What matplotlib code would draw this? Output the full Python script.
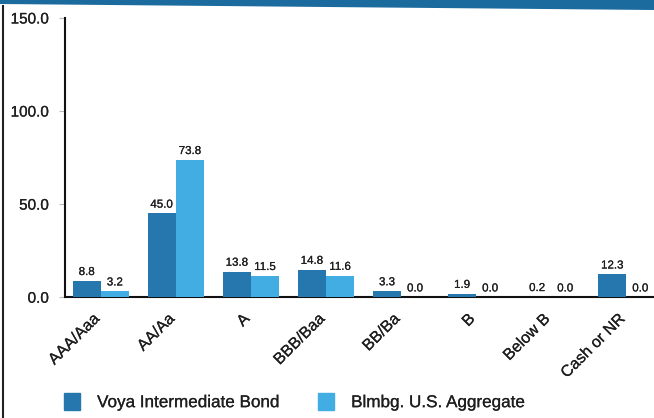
import matplotlib
matplotlib.use("Agg")
import matplotlib.pyplot as plt
import matplotlib.patheffects as pe
import matplotlib.transforms as mtransforms
import numpy as np
from matplotlib.patches import Rectangle, Polygon

categories = ["AAA/Aaa", "AA/Aa", "A", "BBB/Baa", "BB/Ba", "B", "Below B", "Cash or NR"]
fund_values = [8.8, 45.0, 13.8, 14.8, 3.3, 1.9, 0.2, 12.3]
index_values = [3.2, 73.8, 11.5, 11.6, 0.0, 0.0, 0.0, 0.0]
series_names = ["Voya Intermediate Bond", "Blmbg. U.S. Aggregate"]
y_ticks = [0.0, 50.0, 100.0, 150.0]

dark_blue = "#2677ad"
light_blue = "#42ade3"
text_color = "#1e1e1e"
heavy = [pe.withStroke(linewidth=0.15, foreground=text_color)]

plt.rcParams["font.family"] = ["Liberation Sans", "DejaVu Sans"]

fig = plt.figure(figsize=(6.54, 4.18), dpi=100)
fig.patch.set_facecolor("white")

# header band (slightly slanted) and left border
fig.add_artist(Polygon([(0, 1), (1, 1), (1, 1 - 10 / 418), (0, 1 - 4 / 418)],
                       closed=True, transform=fig.transFigure,
                       facecolor="#1c6b9e", edgecolor="none"))
fig.add_artist(plt.Line2D([0.005, 0.005], [0.0, 0.985], transform=fig.transFigure,
                          color="#222222", lw=1.5))

ax = fig.add_axes([0.1, 0.289, 0.915, 0.668])
x = np.arange(len(categories))
w = 0.375
ax.bar(x - w / 2, fund_values, w, color=dark_blue, label=series_names[0], zorder=2)
ax.bar(x + w / 2, index_values, w, color=light_blue, label=series_names[1], zorder=2)

for xs, vals in ((x - w / 2, fund_values), (x + w / 2, index_values)):
    for xi, v in zip(xs, vals):
        ax.text(xi, v + 1.5, f"{v:.1f}", ha="center", va="bottom", fontsize=8.3,
                color=text_color, path_effects=heavy)

ax.set_xlim(-0.47, 7.5)
ax.set_ylim(0, 150)
ax.set_yticks(y_ticks)
ax.set_yticklabels([f"{t:.1f}" for t in y_ticks], fontsize=11, color=text_color)
ax.tick_params(axis="y", length=4, color="#bbbbbb", pad=8)
ax.set_xticks(x)
ax.set_xticklabels(categories, rotation=45, ha="right", rotation_mode="anchor",
                   fontsize=11.5, color=text_color)
ax.tick_params(axis="x", length=0, pad=10)
shift = mtransforms.ScaledTranslation(-9 / 100, 0, fig.dpi_scale_trans)
for lbl in ax.get_xticklabels():
    lbl.set_transform(lbl.get_transform() + shift)
for lbl in ax.get_xticklabels() + ax.get_yticklabels():
    lbl.set_path_effects(heavy)

for side in ["top", "right"]:
    ax.spines[side].set_visible(False)
ax.spines["left"].set_color("#111111")
ax.spines["left"].set_linewidth(1.5)
ax.spines["bottom"].set_color("#111111")
ax.spines["bottom"].set_linewidth(1.5)
ax.spines["bottom"].set_zorder(1)

handles = [Rectangle((0, 0), 1, 1, color=dark_blue), Rectangle((0, 0), 1, 1, color=light_blue)]
leg = fig.legend(handles, series_names, loc="lower left", bbox_to_anchor=(0.074, -0.018),
                 ncol=2, frameon=False, fontsize=12.3, handlelength=0.95, handleheight=1.2,
                 columnspacing=2.2, handletextpad=1.0)
for t in leg.get_texts():
    t.set_color(text_color)
    t.set_path_effects(heavy)

fig.savefig("out.png", dpi=100)
